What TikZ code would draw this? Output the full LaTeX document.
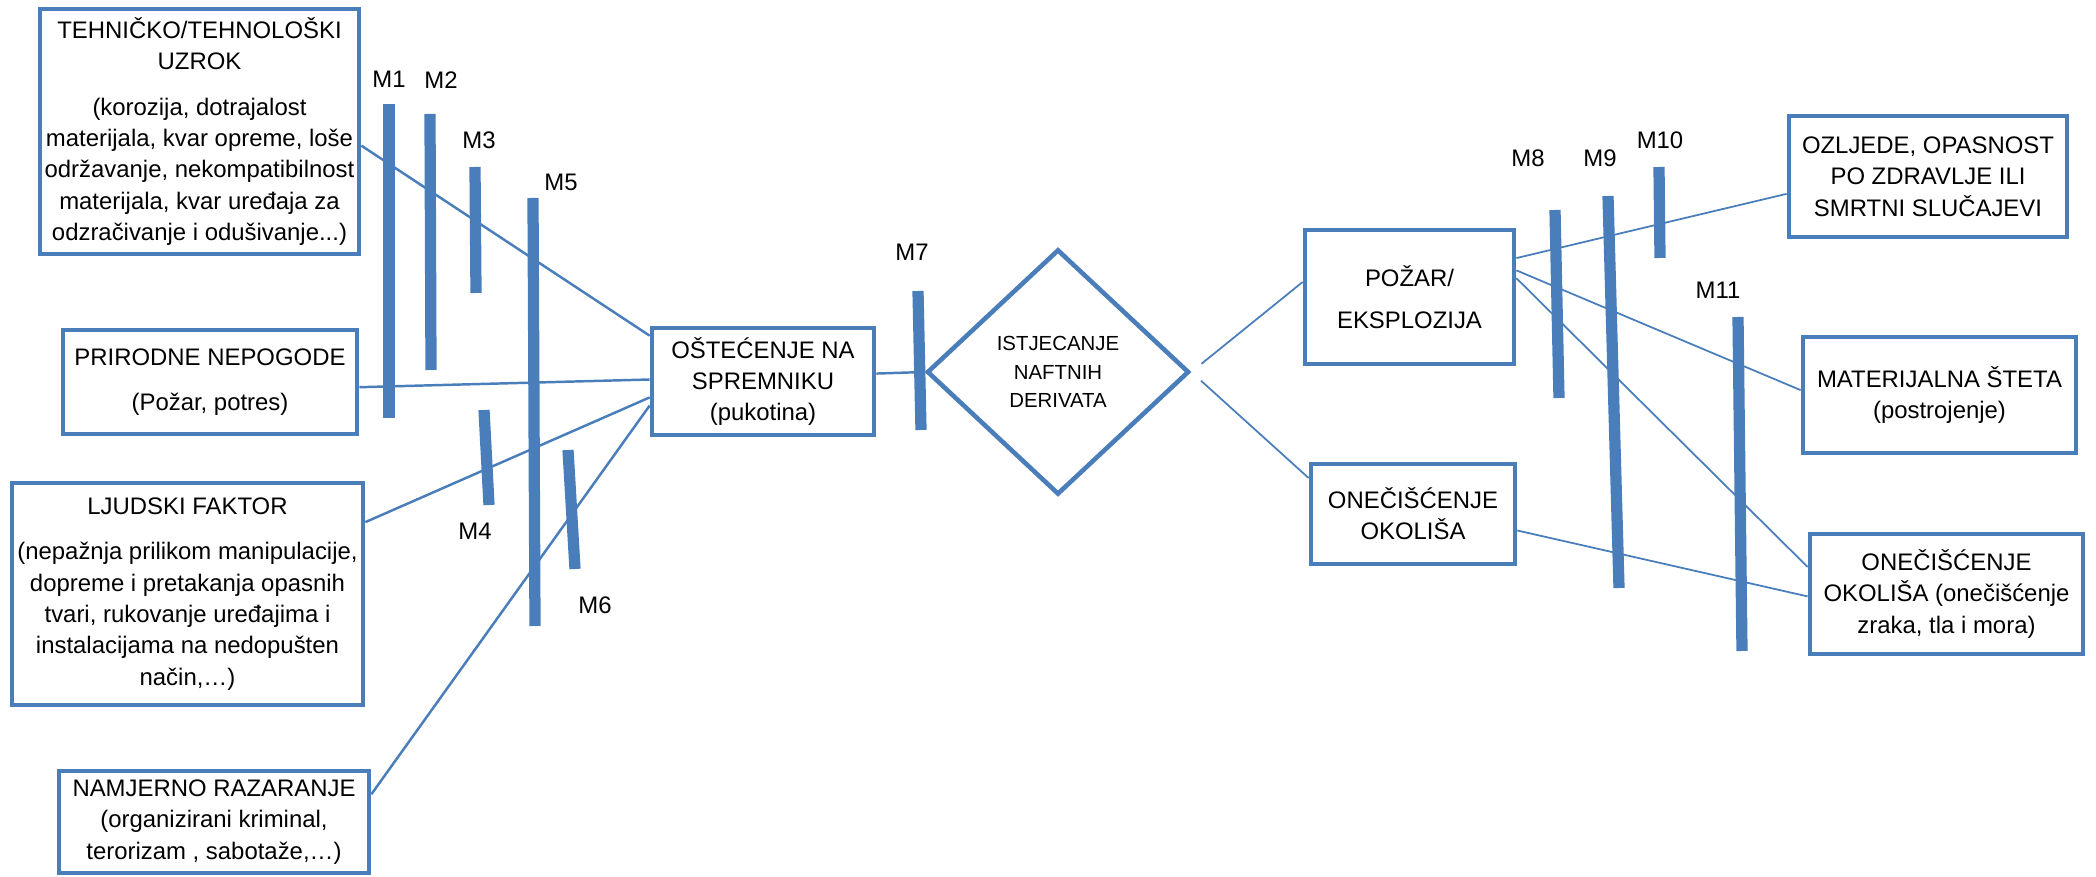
\documentclass[tikz,border=0pt]{standalone}
\usepackage{fontspec}
\setmainfont{Liberation Sans}
\usetikzlibrary{positioning}
\usetikzlibrary{shapes.geometric}

\definecolor{boxblue}{HTML}{4A7EBB}

\tikzset{
  box/.style={draw=boxblue, line width=1.3pt, fill=white, align=center, inner sep=1pt, font=\fontsize{6.8pt}{8.9pt}\selectfont},
  conn/.style={draw=boxblue, line width=0.7pt},
  thinconn/.style={draw=boxblue, line width=0.5pt},
  barrier/.style={draw=boxblue, line width=3.2pt},
  mlabel/.style={font=\fontsize{6.8pt}{8.9pt}\selectfont, inner sep=0pt},
}

\begin{document}
\begin{tikzpicture}[x=0.01cm, y=-0.01cm]
\useasboundingbox (0,0) rectangle (2096,877);

%causes
\node[box, minimum width=3.19cm, minimum height=2.45cm] (teh) at (199.5,131.5) {TEHNIČKO/TEHNOLOŠKI\\UZROK\\[4pt](korozija, dotrajalost\\materijala, kvar opreme, loše\\održavanje, nekompatibilnost\\materijala, kvar uređaja za\\odzračivanje i odušivanje...)};
\node[box, minimum width=2.94cm, minimum height=1.04cm] (prir) at (210,382) {PRIRODNE NEPOGODE\\[4pt](Požar, potres)};
\node[box, minimum width=3.51cm, minimum height=2.22cm] (ljud) at (187.5,594) {LJUDSKI FAKTOR\\[4pt](nepažnja prilikom manipulacije,\\dopreme i pretakanja opasnih\\tvari, rukovanje uređajima i\\instalacijama na nedopušten\\način,…)};
\node[box, minimum width=3.10cm, minimum height=1.02cm] (namj) at (214,822) {NAMJERNO RAZARANJE\\(organizirani kriminal,\\terorizam , sabotaže,…)};

%event
\node[box, minimum width=2.22cm, minimum height=1.07cm] (ost) at (763,381.5) {OŠTEĆENJE NA\\SPREMNIKU\\(pukotina)};
\node[box, diamond, aspect=1.07, minimum width=2.62cm, minimum height=2.45cm, inner sep=0pt, font=\fontsize{5.8pt}{8pt}\selectfont] (dia) at (1058,372) {ISTJECANJE\\NAFTNIH\\DERIVATA};

%consequences
\node[box, minimum width=2.09cm, minimum height=1.34cm] (poz) at (1409.5,297) {POŽAR/\\[3pt]EKSPLOZIJA};
\node[box, minimum width=2.04cm, minimum height=1.00cm] (one1) at (1413,514) {ONEČIŠĆENJE\\OKOLIŠA};
\node[box, minimum width=2.78cm, minimum height=1.21cm] (ozl) at (1928,176.5) {OZLJEDE, OPASNOST\\PO ZDRAVLJE ILI\\SMRTNI SLUČAJEVI};
\node[box, minimum width=2.73cm, minimum height=1.16cm] (mat) at (1939.5,395) {MATERIJALNA ŠTETA\\(postrojenje)};
\node[box, minimum width=2.73cm, minimum height=1.20cm] (one2) at (1946.5,594) {ONEČIŠĆENJE\\OKOLIŠA (onečišćenje\\zraka, tla i mora)};

%connectors
\draw[conn] (teh.-5) -- (ost.158);
\draw[conn] (prir.-2) -- (ost.179);
\draw[conn] (ljud.22) -- (ost.188);
\draw[conn] (namj.10) -- (ost.192);
\draw[conn] (ost.4) -- (dia.west);
\draw[thinconn, shorten <=13pt*0.2845] (dia.east) -- (poz.172);
\draw[thinconn, shorten <=13pt*0.2845] (dia.east) -- (one1.161);
\draw[thinconn] (poz.20) -- (ozl.187);
\draw[thinconn] (poz.14) -- (mat.178);
\draw[thinconn] (poz.10) -- (one2.169);
\draw[thinconn] (one1.-9) -- (one2.181);

%barriers
\draw[barrier] (389,104) -- (389,418);
\draw[barrier] (430,114) -- (431,370);
\draw[barrier] (475,167) -- (476,293);
\draw[barrier] (484,410) -- (489,505);
\draw[barrier] (533,198) -- (535,626);
\draw[barrier] (568,450) -- (575,569);
\draw[barrier] (918,291) -- (921,430);
\draw[barrier] (1555,210) -- (1559,398);
\draw[barrier] (1608,196) -- (1619,588);
\draw[barrier] (1659,167) -- (1660,258);
\draw[barrier] (1738,317) -- (1742,651);

\node[mlabel] (m1) at (389,79) {M1};
\node[mlabel] (m2) at (441,80) {M2};
\node[mlabel] (m3) at (479,140) {M3};
\node[mlabel] (m4) at (475,531) {M4};
\node[mlabel] (m5) at (561,182) {M5};
\node[mlabel] (m6) at (595,605) {M6};
\node[mlabel] (m7) at (912,252) {M7};
\node[mlabel] (m8) at (1528,158) {M8};
\node[mlabel] (m9) at (1600,158) {M9};
\node[mlabel] (m10) at (1660,140) {M10};
\node[mlabel] (m11) at (1718,290) {M11};

\end{tikzpicture}
\end{document}
